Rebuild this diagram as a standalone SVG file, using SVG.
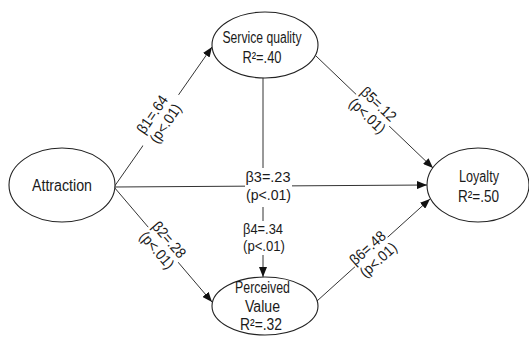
<svg xmlns="http://www.w3.org/2000/svg" width="529" height="337" viewBox="0 0 529 337">
  <defs>
    <marker id="arr" viewBox="0 0 10 8" refX="10" refY="4" markerWidth="10" markerHeight="8" markerUnits="userSpaceOnUse" orient="auto">
      <path d="M0,0 L10,4 L0,8 Z" fill="#111"/>
    </marker>
  </defs>
  <style>
    .node ellipse { fill: #fff; stroke: #222; stroke-width: 1.1; }
    .conn line { stroke: #333; stroke-width: 1; fill: none; }
    text { font-family: "Liberation Sans", Arial, sans-serif; fill: #1a1a1a; }
    .nt { font-size: 16px; text-anchor: middle; }
    .lt { font-size: 15px; text-anchor: middle; }
    .bg { fill: #fff; stroke: none; }
  </style>
  <rect width="529" height="337" fill="#fff"/>

  <g id="connectors" class="conn">
    <line x1="114" y1="187" x2="212" y2="47" marker-end="url(#arr)"/>
    <line x1="114" y1="187" x2="212" y2="302" marker-end="url(#arr)"/>
    <line x1="114" y1="187" x2="427" y2="185" marker-end="url(#arr)"/>
    <line x1="263" y1="78" x2="263" y2="277" marker-end="url(#arr)"/>
    <line x1="316" y1="56" x2="433" y2="168" marker-end="url(#arr)"/>
    <line x1="317" y1="301" x2="430" y2="199" marker-end="url(#arr)"/>
  </g>

  <g id="labels">
    <g id="label-b1" transform="translate(159,119) rotate(-55.5)">
      <rect class="bg" x="-31" y="-15" width="62" height="31"/>
      <text class="lt" x="0" y="-3" textLength="43" lengthAdjust="spacingAndGlyphs">β1=.64</text>
      <text class="lt" x="0" y="13" textLength="44" lengthAdjust="spacingAndGlyphs">(p&lt;.01)</text>
    </g>
    <g id="label-b2" transform="translate(163,245) rotate(49.6)">
      <rect class="bg" x="-23" y="-15" width="46" height="31"/>
      <text class="lt" x="0" y="-3" textLength="43" lengthAdjust="spacingAndGlyphs">β2=.28</text>
      <text class="lt" x="0" y="13" textLength="44" lengthAdjust="spacingAndGlyphs">(p&lt;.01)</text>
    </g>
    <g id="label-b3">
      <rect class="bg" x="245" y="168" width="47" height="39"/>
      <text class="lt" x="268" y="182" textLength="45" lengthAdjust="spacingAndGlyphs">β3=.23</text>
      <text class="lt" x="268.5" y="200" textLength="45" lengthAdjust="spacingAndGlyphs">(p&lt;.01)</text>
    </g>
    <g id="label-b4">
      <rect class="bg" x="242" y="221" width="44" height="34"/>
      <text class="lt" x="263" y="234" textLength="40" lengthAdjust="spacingAndGlyphs">β4=.34</text>
      <text class="lt" x="264" y="251" textLength="42" lengthAdjust="spacingAndGlyphs">(p&lt;.01)</text>
    </g>
    <g id="label-b5" transform="translate(373,110) rotate(43.7)">
      <rect class="bg" x="-23" y="-15" width="46" height="31"/>
      <text class="lt" x="0" y="-3" textLength="43" lengthAdjust="spacingAndGlyphs">β5=.12</text>
      <text class="lt" x="0" y="13" textLength="44" lengthAdjust="spacingAndGlyphs">(p&lt;.01)</text>
    </g>
    <g id="label-b6" transform="translate(373,254) rotate(-41.8)">
      <rect class="bg" x="-22" y="-15" width="44" height="31"/>
      <text class="lt" x="0" y="-3" textLength="43" lengthAdjust="spacingAndGlyphs">β6=.48</text>
      <text class="lt" x="0" y="13" textLength="44" lengthAdjust="spacingAndGlyphs">(p&lt;.01)</text>
    </g>
  </g>

  <g id="attraction" class="node">
    <ellipse cx="62" cy="185" rx="53" ry="37"/>
    <text class="nt" x="62" y="191" textLength="60" lengthAdjust="spacingAndGlyphs">Attraction</text>
  </g>
  <g id="service-quality" class="node">
    <ellipse cx="265" cy="45" rx="53" ry="33"/>
    <text class="nt" x="262" y="43" textLength="79" lengthAdjust="spacingAndGlyphs">Service quality</text>
    <text class="nt" x="262" y="63" textLength="39" lengthAdjust="spacingAndGlyphs">R²=.40</text>
  </g>
  <g id="perceived-value" class="node">
    <ellipse cx="265" cy="306" rx="53" ry="29"/>
    <text class="nt" x="262.5" y="293" textLength="55" lengthAdjust="spacingAndGlyphs">Perceived</text>
    <text class="nt" x="262.5" y="311.5" textLength="35" lengthAdjust="spacingAndGlyphs">Value</text>
    <text class="nt" x="261" y="330" textLength="42" lengthAdjust="spacingAndGlyphs">R²=.32</text>
  </g>
  <g id="loyalty" class="node">
    <ellipse cx="478" cy="185" rx="51" ry="37"/>
    <text class="nt" x="479" y="182" textLength="40" lengthAdjust="spacingAndGlyphs">Loyalty</text>
    <text class="nt" x="478.5" y="202" textLength="41" lengthAdjust="spacingAndGlyphs">R²=.50</text>
  </g>
</svg>
